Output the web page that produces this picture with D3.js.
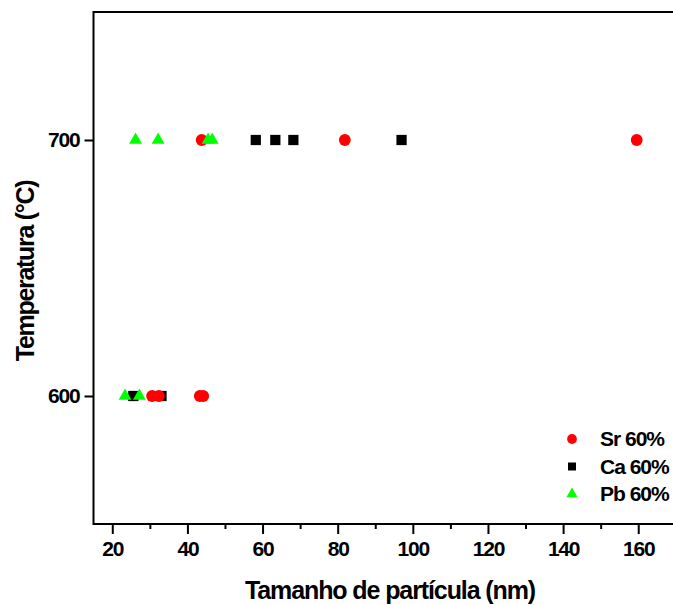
<!DOCTYPE html>
<html><head><meta charset="utf-8">
<script src="https://cdn.jsdelivr.net/npm/d3@7"></script>
<style>
html,body{margin:0;padding:0;background:#fff;}
svg{display:block;font-family:"Liberation Sans",Arial,sans-serif;font-weight:bold;}
</style></head>
<body>
<svg id="chart" width="673" height="605"></svg>
<script>
// Data (particle size in nm, temperature in °C)
const srSize = [30.6, 32.4, 43.3, 44.2, 43.8, 81.9, 159.6];
const srTemp = [600, 600, 600, 600, 700, 700, 700];
const caSize = [25.6, 33.1, 58.2, 63.4, 68.2, 97.0];
const caTemp = [600, 600, 700, 700, 700, 700];
const pbSize = [23.4, 27.2, 26.2, 32.2, 45.5, 46.6];
const pbTemp = [600, 600, 700, 700, 700, 700];
const xTicks = [20, 40, 60, 80, 100, 120, 140, 160];
const xMinorTicks = [30, 50, 70, 90, 110, 130, 150, 170];
const yTicks = [600, 700];
const seriesNames = ["Sr 60%", "Ca 60%", "Pb 60%"];
const seriesColors = ["#ff0000", "#000000", "#00ff00"];

const svg = d3.select("#chart");
const x = d3.scaleLinear().domain([15, 170]).range([93.5, 675.8]);
const y = d3.scaleLinear().domain([550, 750]).range([524, 12]);

// frame (top and left visible; right extends past viewport)
svg.append("rect").attr("x", x(15)).attr("y", y(750))
  .attr("width", 720 - x(15)).attr("height", y(550) - y(750))
  .attr("fill", "none").attr("stroke", "#000").attr("stroke-width", 2);

// x axis
const gx = svg.append("g").attr("transform", `translate(0,${y(550)})`)
  .call(d3.axisBottom(x).tickValues(xTicks).tickSize(10).tickPadding(7).tickFormat(d3.format("d")));
gx.select(".domain").remove();
gx.selectAll(".tick line").attr("stroke-width", 2);
gx.selectAll(".tick text").attr("font-size", 21).attr("font-family", "Liberation Sans, Arial, sans-serif")
  .attr("font-weight", "bold").attr("letter-spacing", "-1.2").attr("fill", "#000");
const gxm = svg.append("g").attr("transform", `translate(0,${y(550)})`)
  .call(d3.axisBottom(x).tickValues(xMinorTicks).tickSize(5).tickFormat(""));
gxm.select(".domain").remove();
gxm.selectAll(".tick line").attr("stroke-width", 2);

// y axis
const gy = svg.append("g").attr("transform", `translate(${x(15)},0)`)
  .call(d3.axisLeft(y).tickValues(yTicks).tickSize(9).tickPadding(5).tickFormat(d3.format("d")));
gy.select(".domain").remove();
gy.selectAll(".tick line").attr("stroke-width", 2);
gy.selectAll(".tick text").attr("font-size", 21).attr("font-family", "Liberation Sans, Arial, sans-serif")
  .attr("font-weight", "bold").attr("letter-spacing", "-1.2").attr("fill", "#000");

// axis titles
svg.append("text").attr("x", 390).attr("y", 599).attr("text-anchor", "middle")
  .attr("font-size", 25).attr("letter-spacing", "-1.1").text("Tamanho de partícula (nm)");
svg.append("text").attr("transform", "translate(34,271) rotate(-90)").attr("text-anchor", "middle")
  .attr("font-size", 25).attr("letter-spacing", "-1.3").text("Temperatura (°C)");

const shapes = [d3.symbolCircle, d3.symbolSquare, d3.symbolTriangle];
const sizes = [110, 105, 72];
const data = [
  srSize.map((s, i) => ({s, t: srTemp[i]})),
  caSize.map((s, i) => ({s, t: caTemp[i]})),
  pbSize.map((s, i) => ({s, t: pbTemp[i]}))
];
// draw order: Ca, Sr, Pb
[1, 0, 2].forEach(k => {
  svg.append("g").selectAll("path").data(data[k]).join("path")
    .attr("transform", d => `translate(${x(d.s)},${y(d.t)})`)
    .attr("d", d3.symbol().type(shapes[k]).size(sizes[k]))
    .attr("fill", seriesColors[k]);
});

// legend
const legSizes = [75, 64, 54];
const leg = svg.append("g");
seriesNames.forEach((n, i) => {
  const yy = 439 + i * 27.5;
  leg.append("path").attr("transform", `translate(572,${yy})`)
    .attr("d", d3.symbol().type(shapes[i]).size(legSizes[i])).attr("fill", seriesColors[i]);
  leg.append("text").attr("x", 600).attr("y", yy + 7).attr("font-size", 21)
    .attr("letter-spacing", "-1").text(n);
});
</script>
</body></html>
